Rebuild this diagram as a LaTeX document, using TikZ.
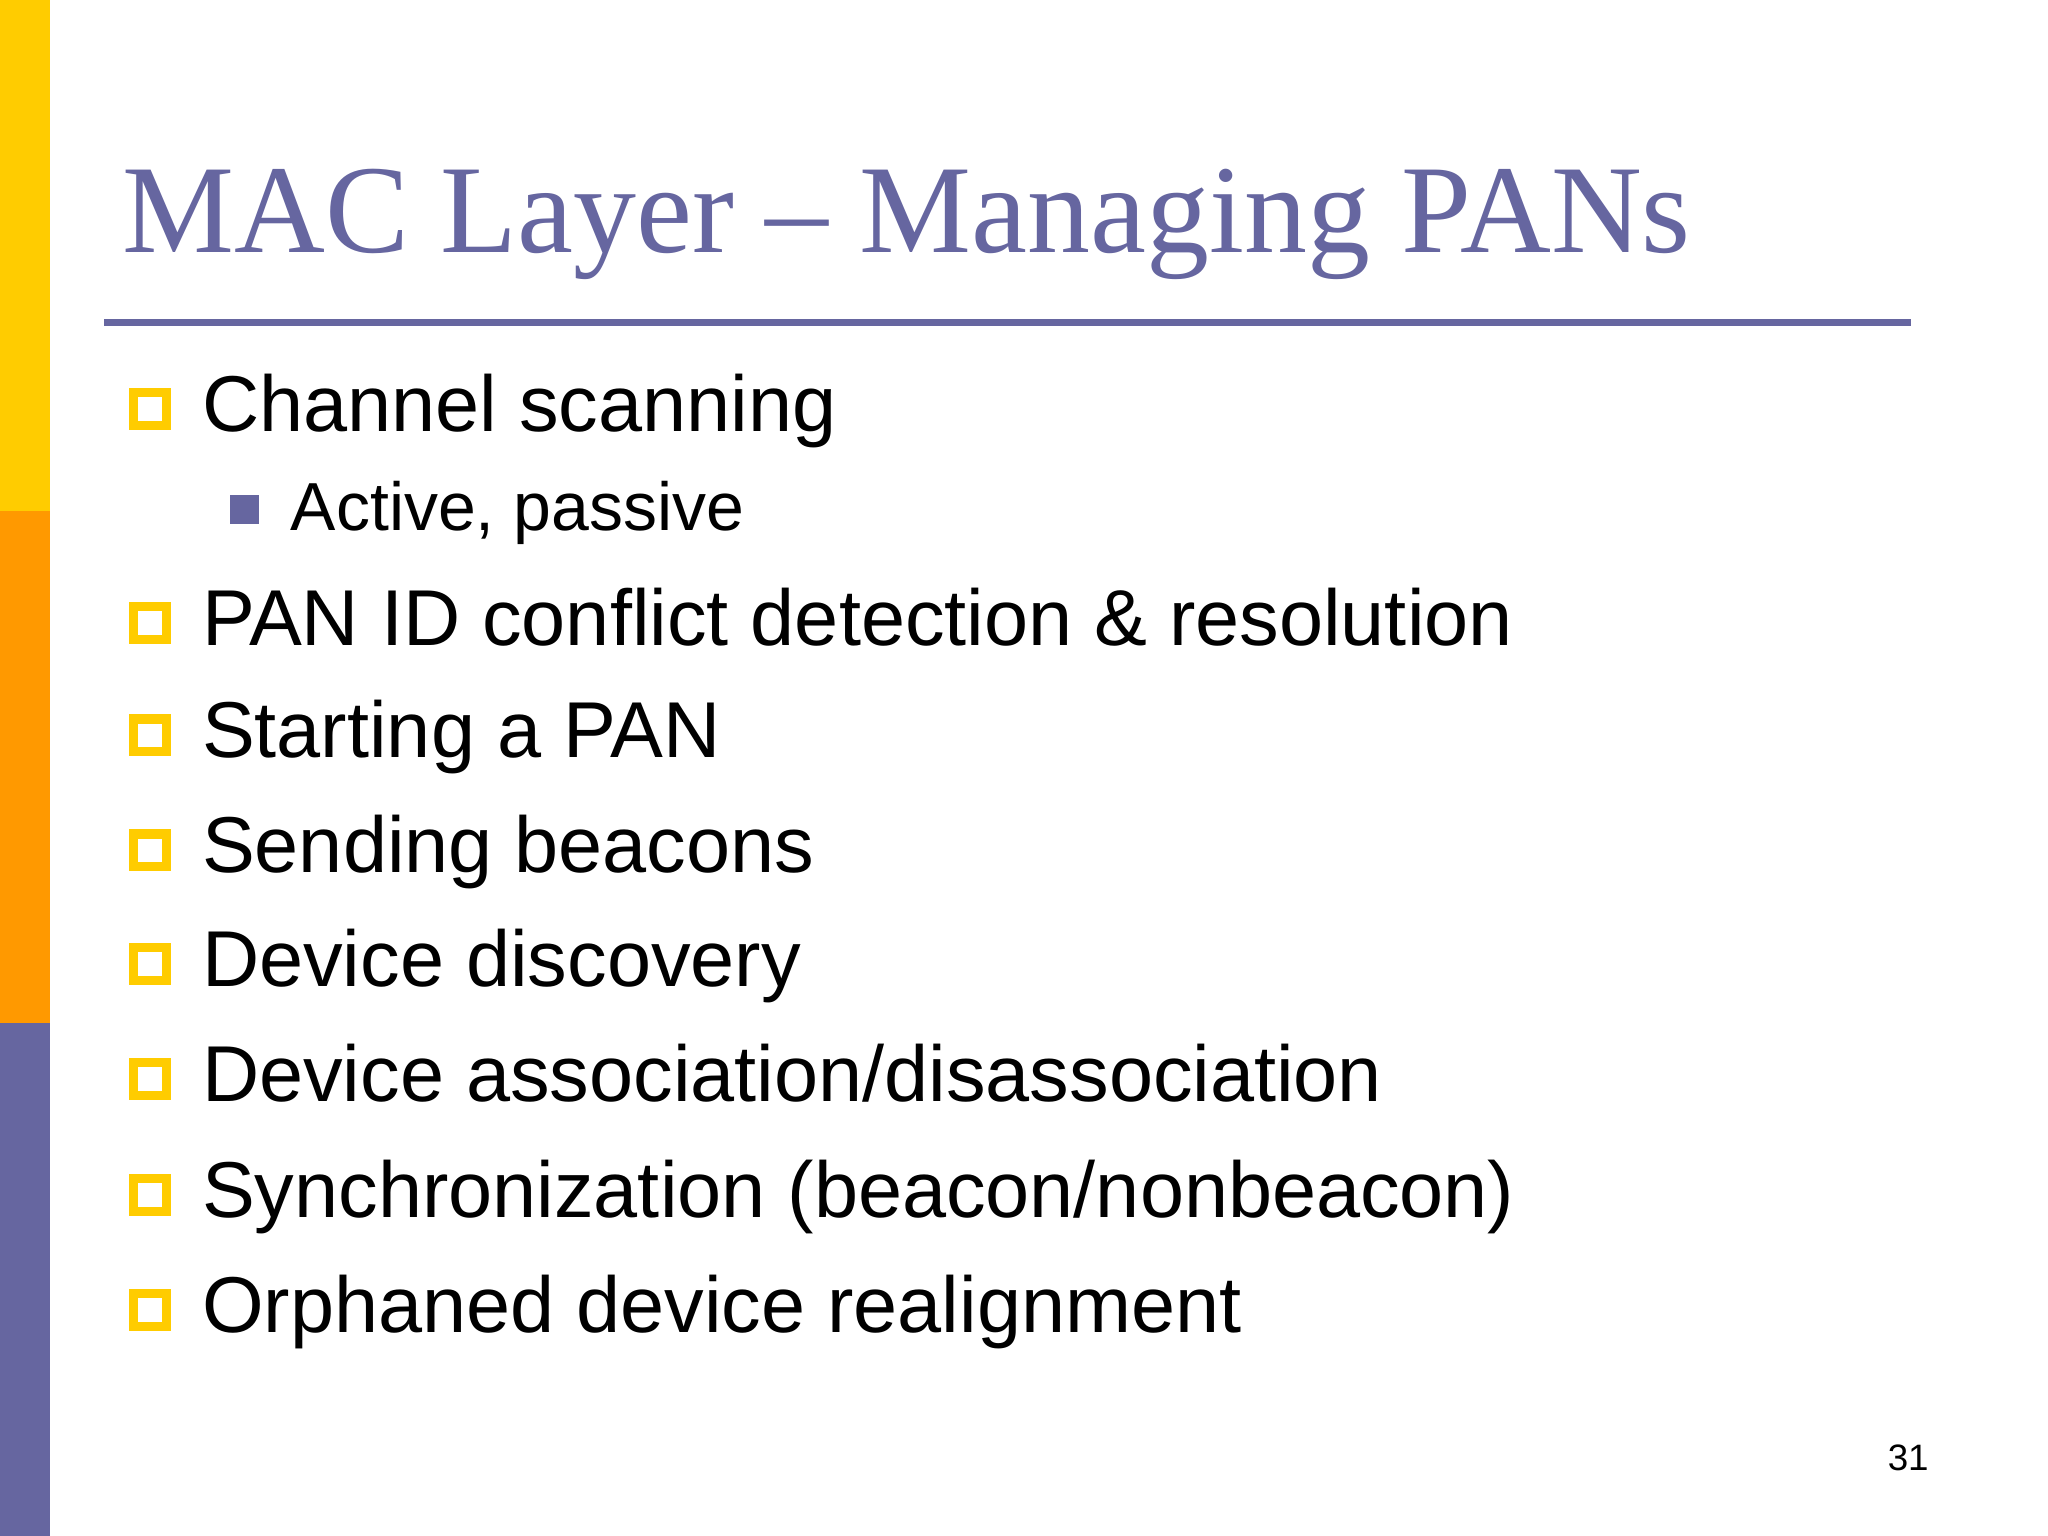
\documentclass[tikz,border=0pt]{standalone}
\usepackage{fontspec}
\setmainfont{Liberation Sans}
\newfontfamily\titlefont{Liberation Serif}
\definecolor{slpurple}{RGB}{102,102,160}
\definecolor{slyellow}{RGB}{255,204,0}
\definecolor{slorange}{RGB}{255,153,0}
\tikzset{
  item/.style={anchor=base west, inner sep=0pt, font=\fontsize{17.25}{19}\selectfont},
  subitem/.style={anchor=base west, inner sep=0pt, font=\fontsize{14.8}{16}\selectfont},
  hbox/.style={draw=slyellow, line width=2pt, minimum size=0.25cm, inner sep=0pt},
  fbox/.style={fill=slpurple, minimum size=0.22cm, inner sep=0pt}
}
\begin{document}
\begin{tikzpicture}[x=0.01cm,y=-0.01cm]
\useasboundingbox (0,0) rectangle (1568,1176);
\fill[white] (0,0) rectangle (1568,1176);
\fill[slyellow] (0,0) rectangle (38,391);
\fill[slorange] (0,391) rectangle (38,783);
\fill[slpurple] (0,783) rectangle (38,1176);
\node[anchor=base west, inner sep=0pt, text=slpurple, font=\titlefont\fontsize{27.4}{29}\selectfont] (title) at (93,193) {MAC Layer – Managing PANs};
\coordinate (l1) at (80,247); \coordinate (l2) at (1463,247);
\draw[slpurple, line width=1.5pt] (l1) -- (l2);
\foreach \y/\t [count=\i] in {330/{Channel scanning}, 494/{PAN ID conflict detection \& resolution}, 580/{Starting a PAN}, 668/{Sending beacons}, 755/{Device discovery}, 843/{Device association/disassociation}, 932/{Synchronization (beacon/nonbeacon)}, 1020/{Orphaned device realignment}}{
  \node[hbox] (b\i) at (115,\y-17) {};
  \node[item] (t\i) at (154,\y) {\t};
}
\node[fbox] (sb) at (187,390) {};
\node[subitem] (st) at (222,406) {Active, passive};
\node[anchor=base, inner sep=0pt, font=\fontsize{8}{9}\selectfont] (pg) at (1461,1126) {31};
\end{tikzpicture}
\end{document}
